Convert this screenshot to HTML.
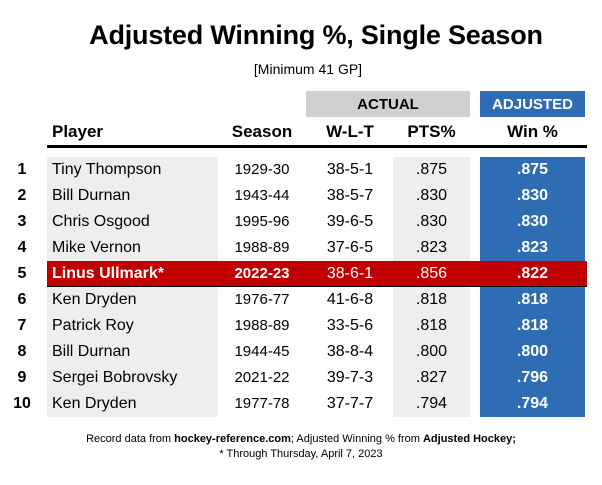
<!DOCTYPE html>
<html><head><style>
body{margin:0;width:602px;height:485px;background:#fff;font-family:"Liberation Sans",Arial,sans-serif;position:relative;overflow:hidden;color:#000}
.a{position:absolute;white-space:nowrap}
.c{text-align:center}
</style></head><body>
<div class="a c" style="left:15px;width:602px;top:20px;font-size:27px;font-weight:bold;letter-spacing:-0.2px">Adjusted Winning %, Single Season</div>
<div class="a c" style="left:7px;width:602px;top:61px;font-size:14px">[Minimum 41 GP]</div>
<div class="a c" style="left:306px;width:164px;top:91px;height:26px;background:#d0d0d0;font-size:15px;font-weight:bold;line-height:27px">ACTUAL</div>
<div class="a c" style="left:480px;width:105px;top:91px;height:26px;background:#2e6db4;color:#fff;font-size:15px;font-weight:bold;line-height:27px">ADJUSTED</div>
<div class="a" style="left:52px;top:122px;font-size:17px;font-weight:bold">Player</div>
<div class="a c" style="left:222px;width:80px;top:122px;font-size:17px;font-weight:bold">Season</div>
<div class="a c" style="left:310px;width:80px;top:122px;font-size:17px;font-weight:bold">W-L-T</div>
<div class="a c" style="left:393px;width:77px;top:122px;font-size:17px;font-weight:bold">PTS%</div>
<div class="a c" style="left:480px;width:105px;top:122px;font-size:17px;font-weight:bold">Win %</div>
<div class="a" style="left:47px;width:540px;top:145px;height:3px;background:#000"></div>
<div class="a" style="left:47px;width:171px;top:157px;height:260px;background:#eeeeee"></div>
<div class="a" style="left:393px;width:77px;top:157px;height:260px;background:#eeeeee"></div>
<div class="a" style="left:480px;width:105px;top:157px;height:260px;background:#2e6db4"></div>
<div id="rows"></div>
<div class="a c" style="left:0;width:602px;top:433px;font-size:11px">Record data from <b>hockey-reference.com</b>; Adjusted Winning % from <b>Adjusted Hockey;</b></div>
<div class="a c" style="left:0;width:602px;top:448px;font-size:11px">* Through Thursday, April 7, 2023</div>
<script>
var d=[["Tiny Thompson","1929-30","38-5-1",".875",".875"],["Bill Durnan","1943-44","38-5-7",".830",".830"],["Chris Osgood","1995-96","39-6-5",".830",".830"],["Mike Vernon","1988-89","37-6-5",".823",".823"],["Linus Ullmark*","2022-23","38-6-1",".856",".822"],["Ken Dryden","1976-77","41-6-8",".818",".818"],["Patrick Roy","1988-89","33-5-6",".818",".818"],["Bill Durnan","1944-45","38-8-4",".800",".800"],["Sergei Bobrovsky","2021-22","39-7-3",".827",".796"],["Ken Dryden","1977-78","37-7-7",".794",".794"]];
var h="";
d.forEach(function(r,i){var y=157+i*26,red=i==4;
if(red)h+='<div class="a" style="left:47px;width:540px;top:'+y+'px;height:25px;background:#c00000;border-bottom:1px solid #000"></div>';
var col=red?'#fff':'#000',b=red?'bold':'normal';
var s='position:absolute;white-space:nowrap;top:'+y+'px;height:26px;line-height:26px;font-size:16px;';
h+='<div class="c" style="'+s+'left:10px;width:24px;font-weight:bold">'+(i+1)+'</div>';
h+='<div style="'+s+'left:52px;color:'+col+';font-weight:'+b+'">'+r[0]+'</div>';
h+='<div class="c" style="'+s+'left:222px;width:80px;font-size:15px;color:'+col+';font-weight:'+b+'">'+r[1]+'</div>';
h+='<div class="c" style="'+s+'left:310px;width:80px;color:'+col+'">'+r[2]+'</div>';
h+='<div class="c" style="'+s+'left:393px;width:77px;color:'+col+'">'+r[3]+'</div>';
h+='<div class="c" style="'+s+'left:480px;width:105px;color:#fff;font-weight:bold">'+r[4]+'</div>';});
document.getElementById("rows").innerHTML=h;
</script>
</body></html>
